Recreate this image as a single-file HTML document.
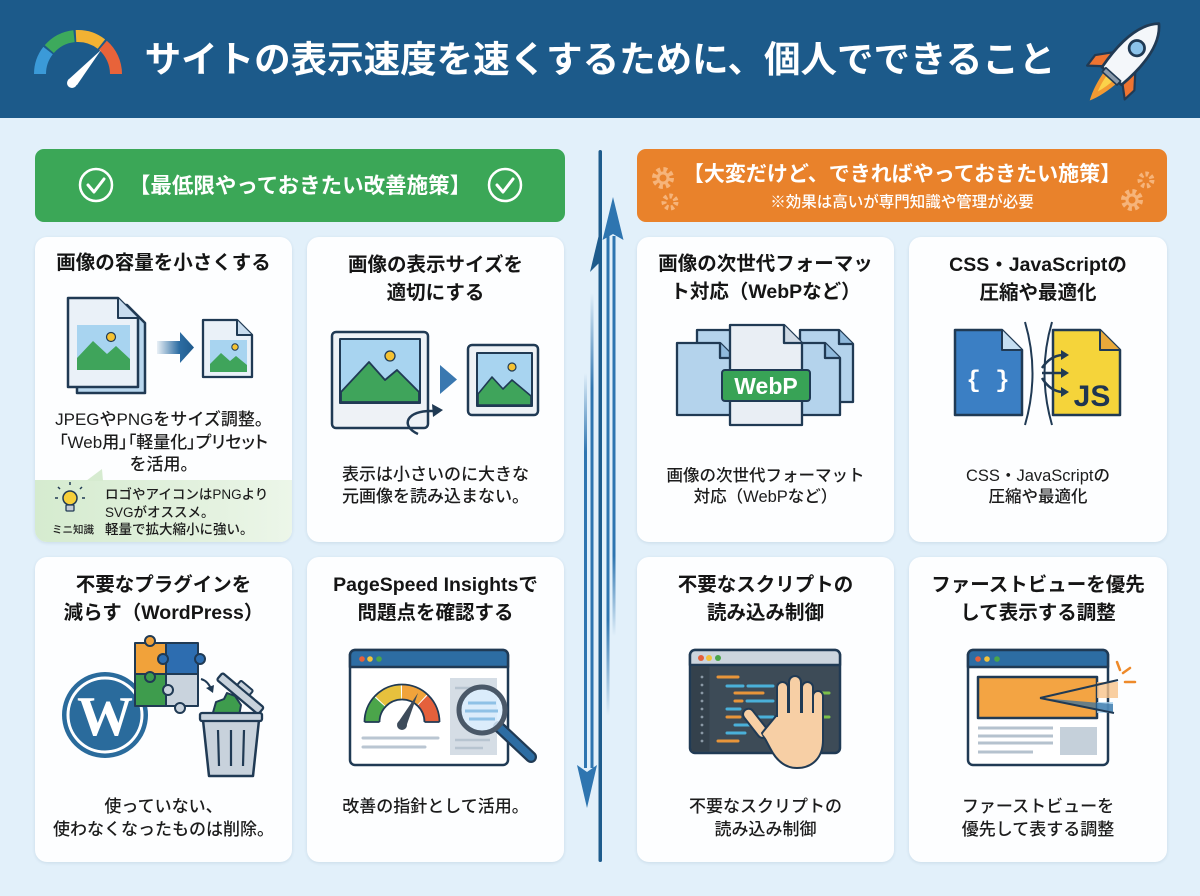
<!DOCTYPE html>
<html><head><meta charset="utf-8">
<style>
*{margin:0;padding:0;box-sizing:border-box}
body{width:1200px;height:896px;overflow:hidden;background:#e2f0fa;font-family:"Liberation Sans","Noto Sans CJK JP",sans-serif;position:relative;color:#1a1a1a}
.hdr{position:absolute;left:0;top:0;width:1200px;height:118px;background:#1c5a8a}
.card{position:absolute;width:257px;height:305px;background:#fdfeff;border-radius:12px;box-shadow:0 1px 3px rgba(30,70,110,.12);overflow:hidden}
.t{position:absolute;text-align:center;white-space:nowrap}
.ti{font-weight:700;font-size:19.5px;line-height:28px;color:#151515}
.bd{font-weight:500;font-size:17px;color:#1c1c1c}
.banner{position:absolute;top:149px;height:73px;border-radius:9px}
.palt{font-feature-settings:"palt" 1}
</style></head><body>
<div class="hdr"></div>
<div class="banner" style="left:35px;width:530px;background:#3ba757"></div>
<div class="banner" style="left:637px;width:530px;background:#e9822b"></div>

<div class="card" style="left:35px;top:237px"><div style="position:absolute;left:0;top:243px;width:257px;height:62px;background:linear-gradient(90deg,#d5ebcf,#e4f2e0 70%,#ecf6e9)"></div></div>
<div class="card" style="left:307px;top:237px"></div>
<div class="card" style="left:637px;top:237px"></div>
<div class="card" style="left:909px;top:237px;width:258px"></div>
<div class="card" style="left:35px;top:557px"></div>
<div class="card" style="left:307px;top:557px"></div>
<div class="card" style="left:637px;top:557px"></div>
<div class="card" style="left:909px;top:557px;width:258px"></div>

<svg width="1200" height="896" style="position:absolute;left:0;top:0" xmlns="http://www.w3.org/2000/svg">
<defs>
<linearGradient id="ag" x1="0" x2="1" y1="0" y2="0"><stop offset="0" stop-color="#2d6da3" stop-opacity="0.1"/><stop offset="0.6" stop-color="#2d6da3"/><stop offset="1" stop-color="#1f5a8c"/></linearGradient>
<linearGradient id="fadeDown" x1="0" y1="0" x2="0" y2="1"><stop offset="0" stop-color="#2e75b0"/><stop offset="0.8" stop-color="#2e75b0"/><stop offset="1" stop-color="#2e75b0" stop-opacity="0"/></linearGradient>
<linearGradient id="fadeUp" x1="0" y1="0" x2="0" y2="1"><stop offset="0" stop-color="#2e75b0" stop-opacity="0"/><stop offset="0.2" stop-color="#2e75b0"/><stop offset="1" stop-color="#2e75b0"/></linearGradient>
</defs>

<!-- header gauge -->
<g fill="none" stroke-width="12">
<path d="M40 74 A38 38 0 0 1 48.05 50.6" stroke="#3b9ad8"/>
<path d="M49.3 49.1 A38 38 0 0 1 74 36.2" stroke="#3daa5c"/>
<path d="M76 36.05 A38 38 0 0 1 101.4 44.05" stroke="#f2b233"/>
<path d="M102.9 45.3 A38 38 0 0 1 116 74" stroke="#e8633a"/>
</g>
<polygon points="68,80 77,85 101,50" fill="#fff"/>
<circle cx="72" cy="83" r="5" fill="#fff"/>

<!-- rocket -->
<g transform="translate(1128,58) rotate(42) scale(1.1)" stroke="#203a54" stroke-linejoin="round">
<path d="M-8 22 Q-6 40 0 52 Q6 40 8 22 Z" fill="#f39a32" stroke="none"/>
<path d="M-4 22 Q-3 33 0 41 Q3 33 4 22Z" fill="#fbd24a" stroke="none"/>
<path d="M-11 2 L-24 18 L-23 30 L-11 20 Z" fill="#ee7431" stroke-width="2"/>
<path d="M11 2 L24 18 L23 30 L11 20 Z" fill="#ee7431" stroke-width="2"/>
<path d="M0 -42 C13 -30 16 -8 12 22 L-12 22 C-16 -8 -13 -30 0 -42Z" fill="#f4f7fa" stroke-width="2.5"/>
<circle cx="0" cy="-12" r="7" fill="#8cc3ea" stroke-width="2.5"/>
<rect x="-9" y="20" width="18" height="5" fill="#8a9aab" stroke-width="1.5"/>
</g>

<!-- banner checks -->
<g fill="none" stroke="#fff">
<circle cx="96" cy="185" r="16" stroke-width="2.5"/>
<path d="M88 185 l6 7 l10 -13" stroke-width="3" stroke-linecap="round" stroke-linejoin="round"/>
<circle cx="505" cy="185" r="16" stroke-width="2.5"/>
<path d="M497 185 l6 7 l10 -13" stroke-width="3" stroke-linecap="round" stroke-linejoin="round"/>
</g>
<!-- gears -->
<g fill="none" stroke="#f6b47a">
<circle cx="663" cy="178" r="8" stroke-width="6" stroke-dasharray="3.5 2.8"/>
<circle cx="663" cy="178" r="5" stroke-width="3"/>
<circle cx="670" cy="202" r="6" stroke-width="5" stroke-dasharray="3 2.5"/>
<circle cx="1146" cy="180" r="6" stroke-width="5" stroke-dasharray="3 2.5"/>
<circle cx="1132" cy="200" r="8" stroke-width="6" stroke-dasharray="3.5 2.8"/>
<circle cx="1132" cy="200" r="5" stroke-width="3"/>
</g>

<!-- divider -->
<rect x="598.5" y="150" width="3.5" height="712" rx="1.75" fill="#1d5b8c"/>
<rect x="606.5" y="236" width="3" height="480" fill="url(#fadeDown)"/>
<rect x="612.5" y="236" width="3" height="400" fill="url(#fadeDown)"/>
<polygon points="613,197 602.5,240 613,234 623.5,240" fill="#2e75b0"/>
<polygon points="601,226 590,272 600,262" fill="#1d5b8c"/>
<rect x="584" y="373" width="3" height="395" fill="url(#fadeUp)"/>
<rect x="590.5" y="293" width="3" height="475" fill="url(#fadeUp)"/>
<polygon points="577,765 587,772 597,765 587,808" fill="#2e75b0"/>

<!-- card1 icon -->
<g stroke="#203a54" stroke-linejoin="round">
<path d="M77 305 h50 l18 18 v70 h-68 z" fill="#b9d7ee" stroke-width="2.5"/>
<path d="M68 298 h50 l20 20 v69 h-70 z" fill="#eaf1f8" stroke-width="2.5"/>
<path d="M118 298 v20 h20" fill="#c8dcee" stroke-width="2"/>
<rect x="77" y="325" width="53" height="45" fill="#a8d4f0" stroke="none"/>
<path d="M77 358 l16 -17 l14 13 l9 -8 l14 13 v11 h-53z" fill="#3fa45b" stroke="none"/>
<circle cx="111" cy="337" r="4.5" fill="#f5c232" stroke-width="1.2"/>
<path d="M157 341 h23 v-9 l14 15.5 l-14 15.5 v-9 h-23 z" fill="url(#ag)" stroke="none"/>
<path d="M203 320 h34 l15 15 v42 h-49 z" fill="#eaf1f8" stroke-width="2.3"/>
<path d="M237 320 v15 h15" fill="#c8dcee" stroke-width="2"/>
<rect x="210" y="340" width="37" height="32" fill="#a8d4f0" stroke="none"/>
<path d="M210 364 l11 -11 l9 8 l6 -5 l11 9 v7 h-37z" fill="#3fa45b" stroke="none"/>
<circle cx="235" cy="347" r="3.2" fill="#f5c232" stroke-width="1"/>
</g>
<!-- tip notch & bulb -->
<polygon points="86,481 102,469 103,481" fill="#d6ebd0"/>
<g stroke="#203a54">
<circle cx="70" cy="498" r="7" fill="#f6cf3a" stroke-width="1.5"/>
<rect x="66" y="505" width="8" height="6" rx="1" fill="#c4ccd4" stroke-width="1.3"/>
<path d="M70 485 v-3 M60 489 l-2 -2 M80 489 l2 -2 M58 498 h-3 M82 498 h3" stroke="#203a54" stroke-width="1.5" fill="none"/>
</g>

<!-- card2 icon -->
<g stroke="#203a54" stroke-linejoin="round">
<rect x="332" y="332" width="96" height="96" rx="4" fill="#eef2f6" stroke-width="2.5"/>
<rect x="340" y="339" width="80" height="64" fill="#a8d4f0" stroke-width="2"/>
<polygon points="341,392 369,362 385,380 397,370 419,392 419,402 341,402" fill="#3fa45b" stroke-width="1.8"/>
<circle cx="390" cy="356" r="5" fill="#f5c232" stroke-width="1.3"/>
<path d="M440 365 l17 14.5 l-17 14.5z" fill="#3a78b0" stroke="none"/>
<rect x="468" y="345" width="70" height="70" rx="4" fill="#eef2f6" stroke-width="2.5"/>
<rect x="477" y="353" width="55" height="53" fill="#a8d4f0" stroke-width="2"/>
<polygon points="478,394 492,377 503,389 512,380 531,396 531,405 478,405" fill="#3fa45b" stroke-width="1.6"/>
<circle cx="512" cy="367" r="4" fill="#f5c232" stroke-width="1.2"/>
<path d="M418 434 C400 426 406 410 433 411" fill="none" stroke-width="2.5"/>
<polygon points="443,410 432,404 433,417" fill="#203a54" stroke="none"/>
</g>

<!-- card3 webp -->
<g stroke="#203a54" stroke-width="2.3" stroke-linejoin="round">
<path d="M697 330 h36 l14 14 v56 h-50 z" fill="#b4d3ec"/><path d="M733 330 v14 h14" fill="#8fb9dc"/>
<path d="M800 330 h39 l14 14 v58 h-53 z" fill="#b4d3ec"/><path d="M839 330 v14 h14" fill="#8fb9dc"/>
<path d="M677 343 h43 l15 15 v57 h-58 z" fill="#b4d3ec"/><path d="M720 343 v15 h15" fill="#8fb9dc"/>
<path d="M785 343 h40 l15 15 v57 h-55 z" fill="#b4d3ec"/><path d="M825 343 v15 h15" fill="#8fb9dc"/>
<path d="M730 325 h54 l18 18 v82 h-72 z" fill="#e9eef4"/><path d="M784 325 v18 h18" fill="#cfd9e4"/>
<rect x="722" y="370" width="88" height="31" rx="3" fill="#38a356" stroke-width="2"/>
</g>
<text x="766" y="394" text-anchor="middle" font-family="Liberation Sans, sans-serif" font-weight="700" font-size="23" fill="#fff">WebP</text>

<!-- card4 css/js -->
<g stroke="#203a54" stroke-width="2.5" stroke-linejoin="round">
<path d="M955 330 h47 l20 20 v65 h-67 z" fill="#3b7fc4"/><path d="M1002 330 v20 h20" fill="#c5dff2" stroke-width="2"/>
<path d="M1053 330 h47 l20 20 v65 h-67 z" fill="#f5d43a"/><path d="M1100 330 v20 h20" fill="#e9a93a" stroke-width="2"/>
<path d="M1025 322 Q1040 373 1025 425" fill="none" stroke-width="2"/>
<path d="M1052 322 Q1037 373 1052 425" fill="none" stroke-width="2"/>
<path d="M1042 368 Q1050 356 1062 355" fill="none"/>
<path d="M1042 373 L1062 373" fill="none"/>
<path d="M1042 378 Q1050 391 1062 392" fill="none"/>
</g>
<g fill="#203a54">
<polygon points="1069,355 1061,350 1061,360"/><polygon points="1069,373 1061,368 1061,378"/><polygon points="1069,392 1061,387 1061,397"/>
</g>
<text x="988" y="387" text-anchor="middle" font-family="Liberation Mono, monospace" font-weight="700" font-size="24" fill="#fff">{ }</text>
<text x="1092" y="406" text-anchor="middle" font-family="Liberation Sans, sans-serif" font-weight="700" font-size="30" fill="#1f3550">JS</text>

<!-- card5 wp -->
<circle cx="105" cy="715" r="43" fill="#2a6b9c"/>
<circle cx="105" cy="715" r="37" fill="none" stroke="#fff" stroke-width="3"/>
<text x="105" y="735" text-anchor="middle" font-family="Liberation Serif, serif" font-weight="700" font-size="56" fill="#fff">W</text>
<g stroke="#203a54" stroke-width="2" stroke-linejoin="round">
<rect x="135" y="643" width="31" height="31" fill="#f1a23a"/>
<rect x="166" y="643" width="32" height="31" fill="#2d6db0"/>
<rect x="135" y="674" width="31" height="32" fill="#3e9c4d"/>
<rect x="166" y="674" width="32" height="32" fill="#c9d3dd"/>
<circle cx="150" cy="641" r="5" fill="#f1a23a"/>
<circle cx="163" cy="659" r="5" fill="#2d6db0"/>
<circle cx="150" cy="677" r="5" fill="#3e9c4d"/>
<circle cx="168" cy="690" r="5" fill="#c9d3dd"/>
<circle cx="180" cy="708" r="5" fill="#c9d3dd"/>
<circle cx="200" cy="659" r="5" fill="#2d6db0"/>
<path d="M201 679 Q208 681 211 689" fill="none" stroke-width="2"/>
<polygon points="213,693 206,688 214,685" fill="#203a54" stroke="none"/>
<path d="M212 716 l4 -14 l8 -3 l3 -6 l8 3 l6 9 l-2 11 z" fill="#3e9c4d"/>
<g transform="rotate(40 240 694)"><rect x="213" y="689" width="54" height="9" rx="2" fill="#c8d2dc" stroke-width="2.3"/><rect x="232" y="683" width="16" height="6" rx="1.5" fill="#c8d2dc"/></g>
<path d="M203 720 h56 l-6 56 h-44 z" fill="#c8d2dc" stroke-width="2.5"/>
<rect x="200" y="713" width="62" height="8" rx="2" fill="#c8d2dc" stroke-width="2.3"/>
<path d="M218 730 l1 36 M231 730 v36 M244 730 l-1 36" fill="none" stroke-width="2.2"/>
</g>

<!-- card6 pagespeed -->
<g stroke="#203a54" stroke-linejoin="round">
<rect x="350" y="650" width="158" height="115" rx="5" fill="#fff" stroke-width="2.5"/>
<path d="M355 650 h148 a5 5 0 0 1 5 5 v12 h-158 v-12 a5 5 0 0 1 5 -5z" fill="#2d6da3" stroke-width="2.5"/>
</g>
<circle cx="362" cy="659" r="2.8" fill="#e5603c"/><circle cx="370" cy="659" r="2.8" fill="#f2c23a"/><circle cx="379" cy="659" r="2.8" fill="#4ba54a"/>
<g fill="none" stroke-width="15">
<path d="M372 722 A30 30 0 0 1 379.7 701.9" stroke="#4ba54a"/>
<path d="M380.4 701.2 A30 30 0 0 1 401 692" stroke="#e7c13d"/>
<path d="M402 692 A30 30 0 0 1 422.1 699.7" stroke="#f1a33b"/>
<path d="M422.8 700.4 A30 30 0 0 1 432 722" stroke="#e4603c"/>
</g>
<g fill="none" stroke="#203a54" stroke-width="1.8">
<path d="M364.5 722 A37.5 37.5 0 0 1 439.5 722"/><path d="M379.5 722 A22.5 22.5 0 0 1 424.5 722"/>
<path d="M364.5 722 h15 M424.5 722 h15"/>
</g>
<polygon points="397,724 406,727 418,693" fill="#3d4b5a"/><circle cx="402" cy="725" r="5" fill="#3d4b5a"/>
<path d="M363 738 h75 M363 747 h62" stroke="#bac6d2" stroke-width="3" stroke-linecap="round"/>
<rect x="450" y="678" width="47" height="77" fill="#d5dde5"/>
<path d="M455 688 h30 M455 740 h35 M455 748 h28" stroke="#b7c4d0" stroke-width="2.5"/>
<line x1="499" y1="727" x2="531" y2="757" stroke="#203a54" stroke-width="12" stroke-linecap="round"/>
<line x1="499" y1="727" x2="531" y2="757" stroke="#2d6da3" stroke-width="7.5" stroke-linecap="round"/>
<circle cx="482" cy="710" r="23" fill="#dcefff" fill-opacity="0.85" stroke="#4a5868" stroke-width="5"/>
<path d="M468 703 h28 M465 711 h33 M469 719 h26" stroke="#8fc1e6" stroke-width="3"/>

<!-- card7 script -->
<g stroke="#203a54" stroke-linejoin="round">
<rect x="690" y="650" width="150" height="103" rx="5" fill="#3d4b57" stroke-width="2.5"/>
<path d="M695 650 h140 a5 5 0 0 1 5 5 v10 h-150 v-10 a5 5 0 0 1 5 -5z" fill="#ccd5de" stroke-width="2.5"/>
</g>
<rect x="691.5" y="666" width="18" height="85.5" fill="#34414c"/>
<circle cx="701" cy="658" r="3" fill="#e5603c"/><circle cx="709" cy="658" r="3" fill="#f2c23a"/><circle cx="718" cy="658" r="3" fill="#4ba54a"/>
<g fill="#8a98a5"><circle cx="702" cy="677" r="1.4"/><circle cx="702" cy="685" r="1.4"/><circle cx="702" cy="693" r="1.4"/><circle cx="702" cy="701" r="1.4"/><circle cx="702" cy="709" r="1.4"/><circle cx="702" cy="717" r="1.4"/><circle cx="702" cy="725" r="1.4"/><circle cx="702" cy="733" r="1.4"/><circle cx="702" cy="741" r="1.4"/></g>
<g stroke-width="3" stroke-linecap="round" fill="none">
<path d="M718 677 h20 M735 693 h28 M735 701 h7 M727 717 h13 M718 741 h20" stroke="#e8953a"/>
<path d="M727 686 h16 M748 686 h25 M747 701 h26 M727 709 h13 M747 717 h26 M735 725 h18 M727 733 h18" stroke="#4ab0d9"/>
<path d="M822 693 h7 M823 717 h6" stroke="#7cc04a"/>
</g>
<g stroke="#203a54" stroke-width="2" fill="#f7cfa5" stroke-linejoin="round">
<rect x="750" y="706" width="11" height="34" rx="5.5" transform="rotate(-38 756 723)"/>
<rect x="777" y="682" width="11" height="45" rx="5.5"/>
<rect x="789" y="676" width="12" height="50" rx="6"/>
<rect x="802" y="682" width="11" height="45" rx="5.5"/>
<rect x="813" y="691" width="10" height="38" rx="5"/>
<path d="M776 716 L823 716 L823 740 C823 758 812 768 797 768 C785 768 776 760 770 748 L762 733 Z"/>
</g>
<rect x="778" y="713" width="44" height="12" fill="#f7cfa5"/>
<rect x="764" y="728" width="16" height="10" fill="#f7cfa5" transform="rotate(-38 772 733)"/>

<!-- card8 first view -->
<g stroke="#203a54" stroke-linejoin="round">
<rect x="968" y="650" width="140" height="115" rx="5" fill="#fff" stroke-width="2.5"/>
<path d="M973 650 h130 a5 5 0 0 1 5 5 v12 h-140 v-12 a5 5 0 0 1 5 -5z" fill="#2d6da3" stroke-width="2.5"/>
<rect x="978" y="677" width="119" height="41" fill="#f3a443" stroke-width="2.5"/>
</g>
<circle cx="978" cy="659" r="2.8" fill="#e5603c"/><circle cx="987" cy="659" r="2.8" fill="#f2c23a"/><circle cx="997" cy="659" r="2.8" fill="#4ba54a"/>
<rect x="1097" y="682" width="21" height="16" fill="#f7c38a" opacity="0.8"/>
<rect x="1097" y="702" width="16" height="11" fill="#a9d3f0" opacity="0.8"/>
<polygon points="1040,698 1113,704 1113,713" fill="#2d6da3" opacity="0.7"/>
<path d="M1040 698 L1118 680 M1040 698 L1114 713" stroke="#203a54" stroke-width="2"/>
<path d="M1117 662 l3 8 M1123 673 l7 -5 M1125 682 h10" stroke="#ee8a2a" stroke-width="2.5" stroke-linecap="round"/>
<path d="M978 728 h75 M978 736 h75 M978 743 h75 M978 752 h55" stroke="#b5c2ce" stroke-width="3"/>
<rect x="1060" y="727" width="37" height="28" fill="#c5d0da"/>
</svg>

<!-- texts -->
<div class="t" style="left:0;width:1200px;top:38px;font-size:36.5px;line-height:44px;font-weight:700;color:#fff">サイトの表示速度を速くするために、個人でできること</div>
<div class="t" style="left:120px;width:360px;top:171px;font-size:21.5px;line-height:30px;font-weight:700;color:#fff">【最低限やっておきたい改善施策】</div>
<div class="t" style="left:637px;width:530px;top:161px;font-size:21px;line-height:28px;font-weight:700;color:#fff">【大変だけど、できればやっておきたい施策】</div>
<div class="t" style="left:637px;width:530px;top:192px;font-size:15.5px;line-height:22px;font-weight:500;color:#fff">※効果は高いが専門知識や管理が必要</div>

<div class="t ti" style="left:35px;width:257px;top:249px">画像の容量を小さくする</div>
<div class="t bd" style="left:35px;width:257px;top:409px;line-height:22.5px">JPEGやPNGをサイズ調整。<br><span class="palt">「Web用」「軽量化」プリセット</span><br>を活用。</div>
<div class="t" style="left:105px;top:486px;text-align:left;font-size:13.5px;line-height:17.5px;font-weight:500;color:#1c1c1c">ロゴやアイコンはPNGより<br>SVGがオススメ。<br>軽量で拡大縮小に強い。</div>
<div class="t" style="left:48px;width:50px;top:523px;font-size:10.5px;line-height:14px;font-weight:500;color:#1c1c1c">ミニ知識</div>

<div class="t ti" style="left:307px;width:257px;top:251px">画像の表示サイズを<br>適切にする</div>
<div class="t bd" style="left:307px;width:257px;top:464px;line-height:22px">表示は小さいのに大きな<br>元画像を読み込まない。</div>

<div class="t ti" style="left:637px;width:257px;top:250px">画像の次世代フォーマッ<br>ト対応（WebPなど）</div>
<div class="t bd" style="left:637px;width:257px;top:466px;line-height:21px;font-size:16.5px">画像の次世代フォーマット<br>対応（WebPなど）</div>

<div class="t ti" style="left:909px;width:258px;top:251px">CSS・JavaScriptの<br>圧縮や最適化</div>
<div class="t bd" style="left:909px;width:258px;top:466px;line-height:21px;font-size:16.5px">CSS・JavaScriptの<br>圧縮や最適化</div>

<div class="t ti" style="left:35px;width:257px;top:571px">不要なプラグインを<br>減らす（WordPress）</div>
<div class="t bd" style="left:35px;width:257px;top:795px;line-height:23px">使っていない、<br>使わなくなったものは削除。</div>

<div class="t ti" style="left:307px;width:257px;top:571px">PageSpeed Insightsで<br>問題点を確認する</div>
<div class="t bd" style="left:307px;width:257px;top:795px;line-height:23px">改善の指針として活用。</div>

<div class="t ti" style="left:637px;width:257px;top:571px">不要なスクリプトの<br>読み込み制御</div>
<div class="t bd" style="left:637px;width:257px;top:795px;line-height:23px">不要なスクリプトの<br>読み込み制御</div>

<div class="t ti" style="left:909px;width:258px;top:571px">ファーストビューを優先<br>して表示する調整</div>
<div class="t bd" style="left:909px;width:258px;top:795px;line-height:23px">ファーストビューを<br>優先して表する調整</div>
</body></html>
